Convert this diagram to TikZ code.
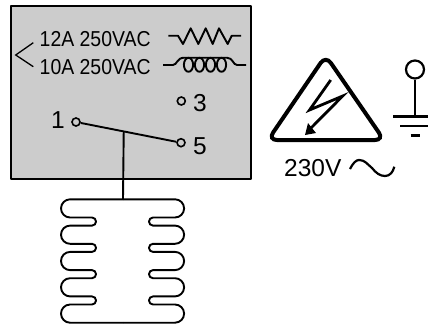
\documentclass[tikz,border=0pt]{standalone}
\usepackage{fontspec}
\setmainfont{Liberation Sans}
\newfontfamily\condfont[FakeStretch=0.9]{Liberation Sans}
\usetikzlibrary{positioning}
\tikzset{
  wire/.style={line width=1.9pt,line join=round},
  contact/.style={circle,draw,line width=1.6pt,inner sep=0pt,minimum size=8pt},
  ratingtext/.style={anchor=base west,inner sep=0pt,font=\condfont\fontsize{21.6}{21.6}\selectfont},
  pintext/.style={anchor=base west,inner sep=0pt,font=\fontsize{24.5}{24.5}\selectfont},
}
\begin{document}
\begin{tikzpicture}[x=1pt,y=-1pt]
\useasboundingbox (0,0) rectangle (428,325);

\draw [wire,fill=black!20] (11,6) rectangle (251,179);

\node [ratingtext] (r1) at (39.5,46.8) {12A 250VAC};
\node [ratingtext] (r2) at (39.5,74) {10A 250VAC};
\draw [line width=1.3pt] (33.3,42.7) -- (15.7,55) -- (33.3,66.7);

\draw [wire] (168.3,35.7) -- (178,35.7) -- (183,44) -- (190.7,28.3) -- (198.3,44) -- (205.7,28.3) -- (212.7,44) -- (219,28.3) -- (227.7,44) -- (231.7,35.7) -- (241,35.7);
\draw [wire] (163,65) -- (173,65) ..controls (177,65) and (177,57.7) .. (184,57.7) -- (227,57.7) ..controls (233,57.7) and (233,65) .. (237,65) -- (246,65);
\foreach \cx in {188.5,199.5,210.5,221.5}
  \draw [wire] (\cx,64.8) ellipse [x radius=4.6pt,y radius=7pt];

\node [contact] (c1) at (76,122) {};
\node [contact] (c3) at (181.3,101) {};
\node [contact] (c5) at (181,142.7) {};
\node [pintext] (p1) at (51,128) {1};
\node [pintext] (p3) at (193,111) {3};
\node [pintext] (p5) at (193,154) {5};
\draw [wire] (c1) -- (c5) coordinate [pos=0.45] (tap);

\coordinate (coiltop) at (123,199.3);
\coordinate (coilbot) at (123,322.7);
\draw [wire] (tap) -- (coiltop);
\draw [wire] (coiltop) -- (70.1,199.3) arc [start angle=90,end angle=270,radius=9.1pt]
  \foreach \n in {1,...,4} { -- ++(21.9,0) arc [start angle=90,end angle=-90,radius=4.05pt] -- ++(-21.9,0) arc [start angle=90,end angle=270,radius=9.1pt] } -- (coilbot);
\draw [wire] (coiltop) -- (175,199.3) arc [start angle=90,end angle=-90,radius=9.1pt]
  \foreach \n in {1,...,4} { -- ++(-22,0) arc [start angle=90,end angle=270,radius=4.05pt] -- ++(22,0) arc [start angle=90,end angle=-90,radius=9.1pt] } -- (coilbot);

\draw [line width=4pt,rounded corners=9pt] (325.7,55.5) -- (384,140) -- (268,140) -- cycle;
\draw [line width=2.8pt,line join=miter] (330.7,80) -- (309.5,110) -- (342.7,96) -- (311,128);
\fill (305,135) -- (316,133) -- (308,123) -- cycle;

\node [pintext] (volt) at (284,176) {230V};
\draw [line width=2.2pt] (350,169) ..controls (353,163) and (356,160) .. (359,160) ..controls (365,160) and (367,164) .. (372,168) ..controls (376,173) and (380,176) .. (385,176) ..controls (390,176) and (393,172) .. (394.3,166.7);

\node [circle,draw,line width=2.2pt,inner sep=0pt,minimum size=18pt] (probe) at (415,69.5) {};
\coordinate (gnd) at (415,116.7);
\draw [line width=2.4pt] (probe) -- (gnd);
\draw [line width=2.8pt] (393,116.7) -- (gnd) -- (428,116.7);
\draw [line width=2.8pt] (400,126) -- (428,126);
\draw [line width=2.8pt] (410.7,135.3) -- (420,135.3);

\end{tikzpicture}
\end{document}
